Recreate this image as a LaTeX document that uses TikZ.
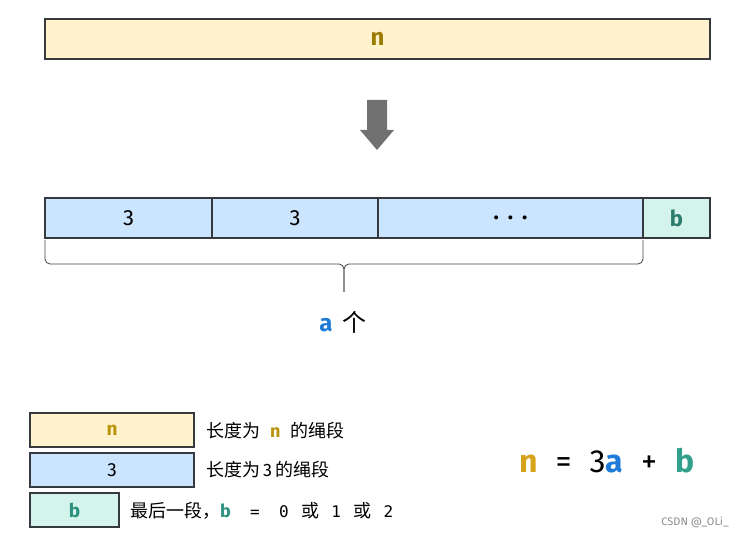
\documentclass[tikz,border=0pt]{standalone}
\usepackage{fontspec}
\setmainfont{Fira Sans}
\setmonofont{DejaVu Sans Mono}
\newfontfamily\cjk{Noto Sans CJK SC}
\usetikzlibrary{positioning}

\definecolor{ropeyellow}{HTML}{FFF2CC}
\definecolor{ropeblue}{HTML}{CCE5FF}
\definecolor{ropemint}{HTML}{D4F3EB}
\definecolor{edgegray}{HTML}{36393D}
\definecolor{arrowgray}{HTML}{717171}
\definecolor{ndark}{HTML}{9C7C00}
\definecolor{nlegend}{HTML}{B8950A}
\definecolor{nformula}{HTML}{D6A41A}
\definecolor{bdark}{HTML}{2A7C6B}
\definecolor{blegend}{HTML}{2E9180}
\definecolor{bformula}{HTML}{33A08E}
\definecolor{ablue}{HTML}{1F7BD8}

\tikzset{
  seg/.style={draw=edgegray, line width=1.2pt, minimum height=40pt, inner sep=0pt, outer sep=0pt, font=\fontsize{22}{26}\selectfont},
  legendbox/.style={seg, minimum height=34pt, font=\fontsize{19}{22}\selectfont},
  legendtext/.style={anchor=west, inner sep=0pt, font=\fontsize{18}{22}\selectfont},
  brace/.style={line width=0.8pt, draw=black!75, rounded corners=5pt},
}

\begin{document}
\begin{tikzpicture}[x=1pt,y=-1pt]
\useasboundingbox (0,0) rectangle (745,537);

\node[seg, fill=ropeyellow, minimum width=665pt, font=\fontsize{24}{28}\selectfont] (whole) at (377.5,39) {\bfseries\color{ndark}n};

\fill[arrowgray] (367,100) -- (387,100) -- (387,130) -- (394,130) -- (377,150) -- (360,130) -- (367,130) -- cycle;

\node[seg, fill=ropeblue, minimum width=167pt, anchor=north west] (s1) at (45,198) {3};
\node[seg, fill=ropeblue, minimum width=166pt, right=0pt of s1] (s2) {3};
\node[seg, fill=ropeblue, minimum width=265pt, right=0pt of s2] (s3) {\bfseries .\hspace{9pt}.\hspace{9pt}.};
\node[seg, fill=ropemint, minimum width=67pt, right=0pt of s3] (s4) {\bfseries\color{bdark}b};

\coordinate (bl) at ([yshift=-2pt]s1.south west);
\coordinate (br) at ([yshift=-2pt]s3.south east);
\coordinate (bm) at (344,292);
\draw[brace] (bl) -- ++(0,24) -| (bm);
\draw[brace] (br) -- ++(0,24) -| (bm);

\node[font=\fontsize{24}{28}\selectfont] (count) at (343,322) {{\bfseries\color{ablue}a}\hspace{10pt}{\cjk 个}};

\node[legendbox, fill=ropeyellow, minimum width=164pt, anchor=north west] (k1) at (30,413) {\bfseries\color{nlegend}n};
\node[legendbox, fill=ropeblue, minimum width=164pt, anchor=north west] (k2) at (30,453) {3};
\node[legendbox, fill=ropemint, minimum width=89pt, anchor=north west] (k3) at (30,493) {\bfseries\color{blegend}b};

\node[legendtext] (t1) at (206,431) {{\cjk 长度为}\hspace{10pt}{\bfseries\color{nlegend}n}\hspace{10pt}{\cjk 的绳段}};
\node[legendtext] (t2) at (206,470) {{\cjk 长度为}\hspace{3pt}3\hspace{3pt}{\cjk 的绳段}};
\node[legendtext] (t3) at (130,511) {{\cjk 最后一段，}{\bfseries\color{blegend}b}{\ttfamily\fontsize{16}{20}\selectfont\ \ =\ \ 0\ \,}{\cjk 或}{\ttfamily\fontsize{16}{20}\selectfont\ \,1\ \,}{\cjk 或}{\ttfamily\fontsize{16}{20}\selectfont\ \,2}};

\node[anchor=west, inner sep=0pt, font=\fontsize{32}{36}\selectfont] (formula) at (519,461) {{\bfseries\color{nformula}n}\hspace{18pt}=\hspace{18pt}3{\bfseries\color{ablue}a}\hspace{18pt}+\hspace{18pt}{\bfseries\color{bformula}b}};

\node[anchor=east, inner sep=0pt, text=black!45, font=\fontsize{11}{13}\selectfont] (mark) at (729,522) {CSDN @\_OLi\_};
\end{tikzpicture}
\end{document}
